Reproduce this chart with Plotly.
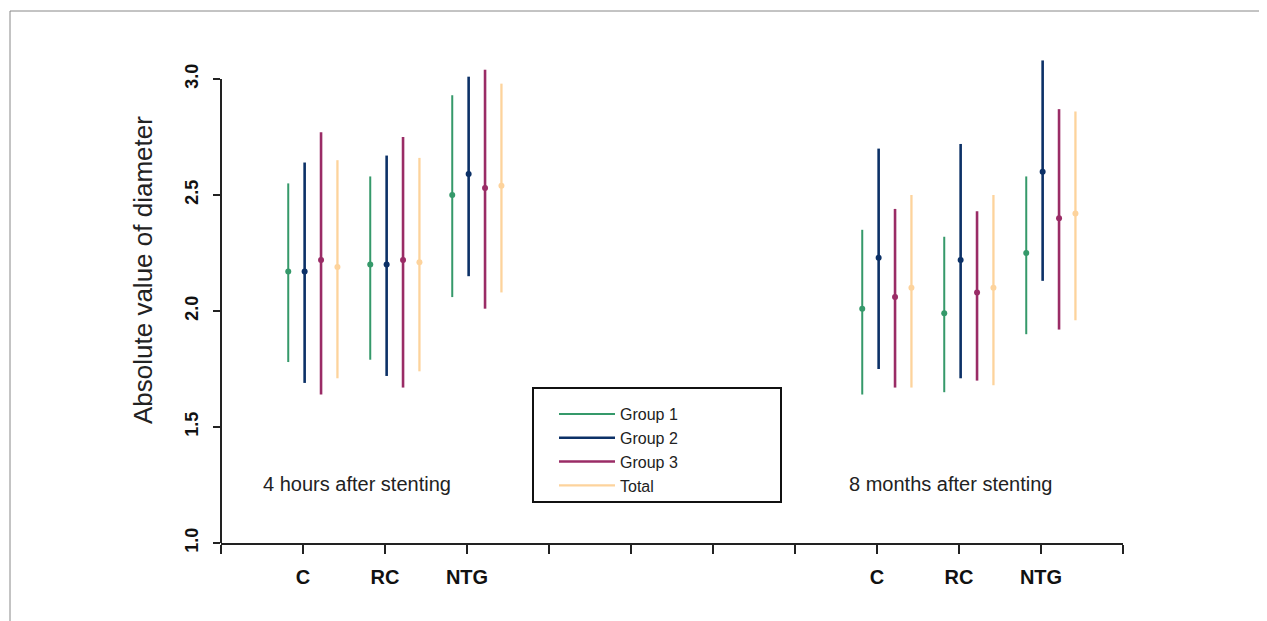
import plotly.graph_objects as go

# ---- data ----
periods = ["4 hours after stenting", "8 months after stenting"]
categories = ["C", "RC", "NTG"]
series_names = ["Group 1", "Group 2", "Group 3", "Total"]

# values ordered: C, RC, NTG (4 hours) then C, RC, NTG (8 months)
g1_mean = [2.17, 2.20, 2.50, 2.01, 1.99, 2.25]
g1_low = [1.78, 1.79, 2.06, 1.64, 1.65, 1.90]
g1_high = [2.55, 2.58, 2.93, 2.35, 2.32, 2.58]

g2_mean = [2.17, 2.20, 2.59, 2.23, 2.22, 2.60]
g2_low = [1.69, 1.72, 2.15, 1.75, 1.71, 2.13]
g2_high = [2.64, 2.67, 3.01, 2.70, 2.72, 3.08]

g3_mean = [2.22, 2.22, 2.53, 2.06, 2.08, 2.40]
g3_low = [1.64, 1.67, 2.01, 1.67, 1.70, 1.92]
g3_high = [2.77, 2.75, 3.04, 2.44, 2.43, 2.87]

tot_mean = [2.19, 2.21, 2.54, 2.10, 2.10, 2.42]
tot_low = [1.71, 1.74, 2.08, 1.67, 1.68, 1.96]
tot_high = [2.65, 2.66, 2.98, 2.50, 2.50, 2.86]

y_ticks = [1.0, 1.5, 2.0, 2.5, 3.0]

# ---- layout helpers ----
cat_pos = [1, 2, 3, 8, 9, 10]
offsets = [-0.18, 0.02, 0.22, 0.42]
colors = ["#35996a", "#0c3167", "#9a2c66", "#fdd39c"]
widths = [2.0, 2.6, 2.6, 2.3]

series = [
    (g1_mean, g1_low, g1_high),
    (g2_mean, g2_low, g2_high),
    (g3_mean, g3_low, g3_high),
    (tot_mean, tot_low, tot_high),
]

fig = go.Figure()
for i, (name, (m, lo, hi)) in enumerate(zip(series_names, series)):
    xs, ys = [], []
    for p, a, b in zip(cat_pos, lo, hi):
        xs += [p + offsets[i], p + offsets[i], None]
        ys += [a, b, None]
    fig.add_trace(go.Scatter(
        x=xs, y=ys, mode="lines", name=name,
        line=dict(color=colors[i], width=widths[i]),
        hoverinfo="skip",
    ))
for i, (name, (m, lo, hi)) in enumerate(zip(series_names, series)):
    fig.add_trace(go.Scatter(
        x=[p + offsets[i] for p in cat_pos], y=m, mode="markers",
        marker=dict(color=colors[i], size=6, symbol="circle"),
        showlegend=False, name=name,
    ))

OFF = 8  # page body margin
W, H = 1267 - OFF, 621 - OFF
L, R, T, B = 221 - OFF, 144, 44 - OFF, 78
px_per_unit = 232.0
plot_h = H - T - B
y_top = 1.0 + plot_h / px_per_unit
plot_w = W - L - R

def paper_x(px):
    return (px - OFF - L) / plot_w

def paper_y(py):
    return (H - B - (py - OFF)) / plot_h

txt_font = dict(family="Liberation Sans, Arial", size=20, color="#222222")

fig.update_layout(
    width=W, height=H,
    margin=dict(l=L, r=R, t=T, b=B),
    paper_bgcolor="white", plot_bgcolor="white",
    font=dict(family="Liberation Sans, Arial, sans-serif", color="#222222"),
    showlegend=True,
    legend=dict(
        x=paper_x(554), y=paper_y(397), xanchor="left", yanchor="top",
        bgcolor="rgba(0,0,0,0)", borderwidth=0,
        font=dict(size=16, color="#222222"),
        itemwidth=56, tracegroupgap=0,
    ),
    xaxis=dict(
        range=[0, 11], tickmode="array",
        tickvals=list(range(12)),
        ticktext=["", categories[0], categories[1], categories[2], "", "", "", "",
                  categories[0], categories[1], categories[2], ""],
        ticks="outside", ticklen=9, tickwidth=2, tickcolor="#222222",
        showline=True, linecolor="#222222", linewidth=2,
        showgrid=False, zeroline=False,
        tickfont=dict(size=20, color="#111111", weight="bold"),
        ticklabelstandoff=6,
    ),
    yaxis=dict(
        range=[1.0, y_top], tickmode="array", tickvals=y_ticks,
        ticktext=[f"{v:.1f}" for v in y_ticks],
        ticks="outside", ticklen=7, tickwidth=2, tickcolor="#222222",
        showline=False, showgrid=False, zeroline=False,
        tickangle=-90,
        tickfont=dict(size=18, color="#111111", weight="bold"),
        ticklabelstandoff=8,
    ),
    shapes=[
        # y axis line from 1.0 to 3.0
        dict(type="line", xref="paper", yref="y", x0=0, x1=0, y0=1.0, y1=3.0,
             line=dict(color="#222222", width=2)),
        # legend box
        dict(type="rect", xref="paper", yref="paper",
             x0=paper_x(533), x1=paper_x(781), y0=paper_y(502), y1=paper_y(388),
             line=dict(color="#111111", width=2), fillcolor="rgba(0,0,0,0)"),
        # outer frame
        dict(type="rect", xref="paper", yref="paper",
             x0=paper_x(10), x1=paper_x(1265), y0=paper_y(640), y1=paper_y(11),
             line=dict(color="#888888", width=1), fillcolor="rgba(0,0,0,0)"),
    ],
    annotations=[
        dict(text="Absolute value of diameter", xref="paper", yref="paper",
             x=paper_x(143), y=paper_y(270), textangle=-90, showarrow=False,
             xanchor="center", yanchor="middle",
             font=dict(family="Liberation Sans, Arial", size=26, color="#222222")),
        dict(text=periods[0], xref="paper", yref="paper",
             x=paper_x(356.5), y=paper_y(484), showarrow=False,
             xanchor="center", yanchor="middle", font=txt_font),
        dict(text=periods[1], xref="paper", yref="paper",
             x=paper_x(950), y=paper_y(484), showarrow=False,
             xanchor="center", yanchor="middle", font=txt_font),
    ],
)

fig.write_html("out.html")
